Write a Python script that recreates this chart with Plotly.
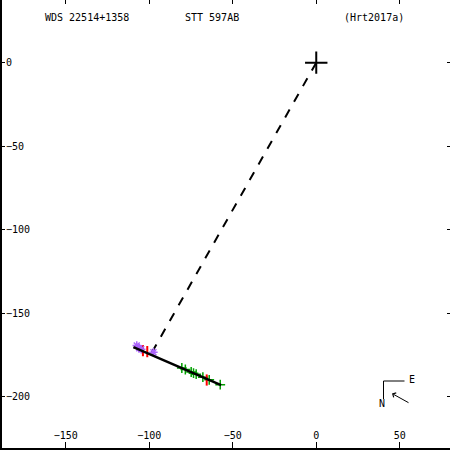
import plotly.graph_objects as go

# Data (units)
orbit_x = [-109.5, -57.0]
orbit_y = [-170.3, -193.0]
node_x = [0.0, -98.5]
node_y = [0.0, -173.6]
green_x = [-80.5, -78.4, -74.9, -73.5, -71.9, -67.9, -64.1, -57.5]
green_y = [-182.8, -183.7, -185.2, -185.9, -186.5, -188.3, -189.9, -192.8]
red_x = [-103.8, -101.2, -65.6]
red_y = [-172.4, -173.0, -190.0]
mag_x = [-107.5, -106.0, -104.8, -97.5]
mag_y = [-169.3, -171.0, -171.6, -173.4]
primary_x = [0.0]
primary_y = [0.0]
xticks = [-150, -100, -50, 0, 50]
yticks = [0, -50, -100, -150, -200]
title_left = "WDS 22514+1358"
title_mid = "STT 597AB"
title_right = "(Hrt2017a)"

FONT = "DejaVu Sans Mono"

fig = go.Figure()
fig.add_trace(go.Scatter(x=node_x, y=node_y, mode="lines",
                         line=dict(color="black", width=2, dash="dash")))
fig.add_trace(go.Scatter(x=green_x, y=green_y, mode="markers",
                         marker=dict(symbol="cross-thin", size=7,
                                     line=dict(color="#00a000", width=1.5))))
fig.add_trace(go.Scatter(x=red_x, y=red_y, mode="markers",
                         marker=dict(symbol="line-ns", size=8,
                                     line=dict(color="red", width=2))))
fig.add_trace(go.Scatter(x=mag_x, y=mag_y, mode="markers",
                         marker=dict(symbol="asterisk-open", size=7,
                                     line=dict(color="#ff00ff", width=1.5))))
fig.add_trace(go.Scatter(x=orbit_x, y=orbit_y, mode="lines",
                         line=dict(color="black", width=2.5)))
fig.add_trace(go.Scatter(x=primary_x, y=primary_y, mode="markers",
                         xaxis="x2", yaxis="y2",
                         marker=dict(symbol="cross-thin", size=16,
                                     line=dict(color="black", width=2))))

axis_common = dict(showgrid=False, zeroline=False, ticks="inside",
                   tickcolor="black", tickfont=dict(family=FONT, size=10, color="black"))

xr = [-188.2, 80.1]
yr = [-230.7, 37.5]

fig.update_layout(
    width=450, height=450,
    margin=dict(l=2, r=0, t=0, b=2, pad=0),
    paper_bgcolor="white", plot_bgcolor="white",
    showlegend=False,
    xaxis=dict(range=xr, tickvals=xticks, ticklen=6,
               ticklabelposition="inside", showline=True, linecolor="black",
               linewidth=2, **axis_common),
    yaxis=dict(range=yr, tickvals=yticks, ticklen=3,
               ticklabelposition="inside", showline=True, linecolor="black",
               linewidth=2, **axis_common),
    xaxis2=dict(overlaying="x", range=xr, side="top", tickvals=xticks,
                ticklen=4, showticklabels=False, showline=False,
                showgrid=False, zeroline=False, ticks="inside", tickcolor="black"),
    yaxis2=dict(overlaying="y", range=yr, side="right", tickvals=yticks,
                ticklen=3, showticklabels=False, showline=False,
                showgrid=False, zeroline=False, ticks="inside", tickcolor="black"),
)

def px(x):
    return (x - 2) / 448
def py(y):
    return 1 - y / 448

for txt, xc in [(title_left, 87), (title_mid, 212), (title_right, 374)]:
    fig.add_annotation(text=txt, x=px(xc), y=py(17), xref="paper", yref="paper",
                       xanchor="center", yanchor="middle",
                       showarrow=False, font=dict(family=FONT, size=10, color="black"))

# compass
fig.add_shape(type="line", xref="paper", yref="paper", x0=px(383.5), y0=py(381),
              x1=px(383.5), y1=py(399), line=dict(color="black", width=1))
fig.add_shape(type="line", xref="paper", yref="paper", x0=px(383.5), y0=py(381),
              x1=px(404.5), y1=py(381), line=dict(color="black", width=1))
fig.add_annotation(text="E", x=px(412), y=py(379), xref="paper", yref="paper",
                   xanchor="center", yanchor="middle",
                   showarrow=False, font=dict(family=FONT, size=10, color="black"))
fig.add_annotation(text="N", x=px(382), y=py(403), xref="paper", yref="paper",
                   xanchor="center", yanchor="middle",
                   showarrow=False, font=dict(family=FONT, size=10, color="black"))
fig.add_annotation(x=px(392), y=py(393.5), ax=18, ay=10,
                   xref="paper", yref="paper", axref="pixel", ayref="pixel",
                   showarrow=True, arrowhead=4, arrowsize=1, arrowwidth=1,
                   arrowcolor="black", text="")

fig.write_html("out.html", config={"displayModeBar": False},
               post_script="document.body.style.margin='0';")
